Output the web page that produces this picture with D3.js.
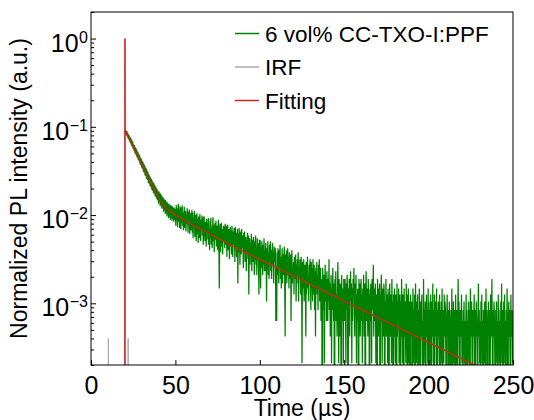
<!DOCTYPE html>
<html>
<head>
<meta charset="utf-8">
<script src="https://cdn.jsdelivr.net/npm/d3@7"></script>
<style>
  body { margin: 0; background: #fff; }
  svg { display: block; font-family: "Liberation Sans", Arial, sans-serif; }
</style>
</head>
<body>
<svg id="chart"></svg>
<script>
// ---- data ----
// green trace: counts every 0.25 us from t = 20 us (one row = 10 us), one count = 2.1e-4 normalized
const greenStart = 20, greenStep = 0.25, countUnit = 2.1e-4;
const greenCounts = [
  430, 405, 438, 392, 400, 425, 371, 408, 352, 390, 340, 378, 322, 362, 310, 350, 290, 335, 283, 324, 268, 301, 255, 296, 240, 279, 232, 270, 220, 256, 212, 248, 200, 236, 194, 228, 182, 214, 176, 208,
  165, 198, 160, 190, 148, 182, 144, 176, 134, 166, 131, 160, 122, 152, 119, 146, 110, 139, 108, 133, 101, 127, 99, 122, 92, 117, 90, 112, 85, 109, 83, 104, 78, 100, 76, 96, 72, 93, 70, 89,
  64, 88, 67, 85, 60, 83, 62, 80, 56, 77, 58, 75, 52, 73, 55, 71, 49, 70, 51, 67, 46, 66, 48, 64, 44, 64, 46, 61, 42, 62, 44, 60, 41, 60, 43, 58, 40, 58, 42, 56,
  48, 36, 62, 42, 57, 35, 50, 64, 40, 55, 34, 60, 45, 33, 58, 39, 61, 36, 51, 32, 47, 59, 34, 43, 53, 31, 48, 38, 57, 40, 30, 52, 36, 55, 29, 45, 50, 32, 41, 54,
  30, 51, 26, 44, 37, 53, 27, 41, 48, 24, 34, 50, 29, 43, 23, 46, 39, 26, 49, 32, 24, 42, 35, 47, 28, 45, 22, 38, 46, 31, 24, 40, 34, 21, 43, 29, 39, 25, 44, 22,
  32, 19, 41, 26, 44, 22, 35, 20, 30, 45, 24, 37, 18, 32, 39, 25, 41, 21, 28, 36, 19, 34, 42, 23, 7, 31, 38, 18, 27, 39, 21, 33, 17, 29, 36, 24, 35, 20, 38, 26,
  22, 36, 16, 30, 37, 19, 26, 33, 15, 28, 35, 21, 32, 17, 36, 24, 16, 31, 22, 34, 27, 14, 35, 20, 30, 16, 25, 33, 8, 29, 18, 34, 23, 13, 31, 26, 17, 33, 20, 28,
  24, 12, 30, 18, 31, 14, 22, 27, 11, 25, 19, 30, 15, 28, 6, 21, 26, 13, 23, 17, 29, 11, 20, 25, 14, 27, 18, 10, 24, 15, 28, 13, 21, 10, 26, 16, 23, 12, 6, 25,
  17, 25, 7, 21, 12, 24, 16, 10, 22, 13, 26, 11, 19, 11, 23, 15, 5, 20, 12, 24, 10, 18, 9, 22, 15, 24, 11, 19, 9, 17, 23, 13, 18, 8, 21, 14, 16, 20, 3, 12,
  3, 18, 10, 20, 13, 8, 19, 15, 22, 9, 16, 7, 14, 20, 8, 17, 10, 15, 21, 9, 2, 17, 11, 19, 8, 14, 20, 10, 16, 7, 18, 12, 9, 17, 3, 13, 19, 8, 12, 10,
  14, 6, 16, 9, 11, 17, 5, 13, 8, 15, 10, 18, 5, 12, 9, 15, 11, 6, 16, 10, 1, 14, 7, 12, 15, 5, 11, 13, 9, 2, 14, 6, 12, 16, 7, 10, 5, 13, 8, 15,
  10, 4, 14, 7, 12, 5, 15, 6, 8, 13, 4, 11, 2, 12, 7, 14, 6, 10, 4, 13, 8, 15, 5, 7, 12, 3, 9, 6, 0, 12, 7, 4, 10, 1, 8, 13, 5, 9, 3, 11,
  7, 3, 9, 5, 15, 4, 8, 2, 6, 10, 1, 7, 4, 12, 6, 3, 8, 0, 9, 5, 11, 3, 6, 2, 7, 14, 4, 1, 9, 5, 2, 8, 6, 0, 10, 4, 3, 7, 1, 9,
  7, 3, 9, 5, 1, 8, 4, 10, 6, 0, 7, 4, 9, 2, 6, 11, 5, 8, 1, 7, 3, 9, 6, 12, 4, 2, 8, 5, 10, 1, 6, 3, 7, 5, 0, 9, 4, 8, 2, 6,
  9, 3, 6, 1, 7, 5, 10, 2, 4, 8, 0, 6, 11, 3, 7, 5, 2, 9, 4, 6, 0, 7, 3, 8, 5, 1, 9, 4, 6, 13, 2, 7, 3, 5, 8, 1, 6, 4, 0, 9,
  5, 2, 7, 4, 8, 0, 6, 3, 10, 5, 1, 7, 4, 2, 8, 6, 0, 5, 3, 9, 2, 6, 4, 1, 7, 3, 0, 5, 8, 2, 6, 4, 1, 9, 3, 5, 0, 6, 2, 7,
  4, 1, 6, 3, 0, 8, 2, 5, 3, 7, 1, 4, 6, 0, 5, 2, 9, 3, 1, 6, 4, 0, 7, 2, 5, 3, 1, 8, 2, 6, 0, 4, 7, 1, 3, 5, 0, 6, 2, 4,
  5, 0, 3, 7, 1, 4, 2, 6, 0, 8, 3, 1, 5, 2, 6, 0, 4, 1, 7, 3, 0, 5, 2, 4, 6, 1, 3, 0, 9, 2, 4, 1, 5, 0, 3, 6, 2, 4, 1, 7,
  0, 5, 2, 4, 1, 6, 0, 3, 5, 2, 8, 1, 4, 0, 6, 2, 3, 5, 1, 7, 0, 4, 2, 5, 3, 1, 6, 0, 4, 2, 5, 1, 7, 0, 3, 4, 1, 6, 2, 5,
  4, 1, 0, 3, 6, 2, 4, 0, 1, 5, 3, 2, 0, 4, 1, 7, 3, 0, 2, 5, 1, 4, 3, 0, 6, 2, 1, 4, 0, 3, 9, 2, 5, 1, 0, 4, 2, 3, 6, 1,
  3, 0, 4, 2, 5, 1, 3, 0, 2, 6, 1, 4, 0, 3, 2, 5, 1, 4, 0, 7, 3, 2, 5, 1, 0, 4, 2, 3, 6, 1, 0, 4, 2, 5, 3, 1, 0, 3, 8, 2,
  4, 1, 3, 0, 5, 2, 6, 1, 3, 0, 4, 2, 1, 5, 3, 0, 7, 2, 4, 1, 0, 3, 5, 2, 4, 0, 1, 6, 2, 3, 9, 1, 0, 4, 2, 5, 3, 1, 0, 4,
  2, 5, 1, 3, 0, 6, 2, 4, 1, 3, 0, 5, 2, 8, 1, 4, 3, 0, 5, 2, 6, 1, 3, 0, 4, 2, 7, 1, 0, 3, 5, 2, 4, 1, 0, 6, 2, 3, 4, 1,
  3
];

// instrument response (grey)
const irfTimes  = [0, 10.0, 10.3, 10.6, 19.8, 20.1, 20.4, 21.7, 22.0, 22.3, 250];
const irfValues = [0, 0, 4e-4, 0, 0, 1.0, 0, 0, 4e-4, 0, 0];

// fitting curve (red): rising edge, then the decay
const spikeTimes  = [20.1, 20.1, 20.2];
const spikeValues = [1e-5, 1.0, 0.090];
const fitTimes  = [20.2, 23, 26, 29, 32, 35, 37, 39, 42, 45, 47, 50, 55, 65, 75, 85, 95, 108, 120, 135, 152, 170, 190, 206, 226, 232];
const fitValues = [0.0899, 0.0703, 0.0538, 0.0413, 0.0316, 0.0241, 0.0203, 0.0171, 0.01374, 0.0118, 0.0110, 0.01007,
                   0.00883, 0.00692, 0.0055, 0.00437, 0.00351, 0.00265, 0.00204, 0.00148, 0.00102, 0.00069, 0.000447,
                   0.000316, 0.000204, 0.000178];

const xTicks = [0, 50, 100, 150, 200, 250];
const yMajorTicks = [1e-3, 1e-2, 1e-1, 1];
const yExponents = ["\u22123", "\u22122", "\u22121", "0"];

const legendLabels = ["6 vol% CC-TXO-I:PPF", "IRF", "Fitting"];
const legendColors = ["#008000", "#a8a8a8", "#dd2020"];

// ---- layout ----
const wtot = 534, htot = 420;
const margin = { top: 12, right: 21, bottom: 55, left: 91 };
const floor = 1e-6; // zero counts go off the bottom of the log axis

const svg = d3.select("#chart")
    .attr("width", wtot)
    .attr("height", htot);

svg.append("rect").attr("width", wtot).attr("height", htot).attr("fill", "#fff");

const x = d3.scaleLinear()
    .domain([0, 250])
    .range([margin.left, wtot - margin.right]);

const y = d3.scaleLog()
    .domain([2e-4, 2])
    .range([htot - margin.bottom, margin.top]);

svg.append("clipPath")
    .attr("id", "plot-clip")
    .append("rect")
    .attr("x", x(0))
    .attr("y", y(2))
    .attr("width", x(250) - x(0))
    .attr("height", y(2e-4) - y(2));

const plot = svg.append("g").attr("clip-path", "url(#plot-clip)");

const line = d3.line()
    .x(d => x(d[0]))
    .y(d => y(Math.max(d[1], floor)));

// IRF
plot.append("path")
    .datum(irfTimes.map((t, i) => [t, irfValues[i]]))
    .attr("fill", "none")
    .attr("stroke", legendColors[1])
    .attr("stroke-width", 1)
    .attr("d", line);

// measured decay
const greenData = greenCounts.map((c, i) => [greenStart + i * greenStep, c * countUnit]);
plot.append("path")
    .datum(greenData)
    .attr("fill", "none")
    .attr("stroke", legendColors[0])
    .attr("stroke-width", 1.25)
    .attr("d", line);

// fitting
plot.append("path")
    .datum(spikeTimes.map((t, i) => [t, spikeValues[i]]))
    .attr("fill", "none")
    .attr("stroke", legendColors[2])
    .attr("stroke-opacity", 0.75)
    .attr("stroke-width", 2)
    .attr("d", line);

plot.append("path")
    .datum(fitTimes.map((t, i) => [t, fitValues[i]]))
    .attr("fill", "none")
    .attr("stroke", "#c8281a")
    .attr("stroke-width", 1.4)
    .attr("d", d3.line().x(d => x(d[0])).y(d => y(d[1])).curve(d3.curveMonotoneX));

// ---- axes (ticks point inwards) ----
const xAxis = d3.axisBottom(x)
    .tickValues(xTicks)
    .tickSizeInner(-5)
    .tickSizeOuter(0)
    .tickPadding(11)
    .tickFormat(d3.format("d"));

const gx = svg.append("g")
    .attr("transform", `translate(0, ${y(2e-4)})`)
    .call(xAxis);
gx.select(".domain").remove();
gx.selectAll(".tick line").attr("stroke", "#000");
gx.selectAll(".tick text")
    .attr("font-size", 25)
    .attr("fill", "#000")
    .attr("font-family", "Liberation Sans, Arial, sans-serif");

// minor y ticks
const minor = y.ticks().filter(v => yMajorTicks.indexOf(v) < 0);
const gyMinor = svg.append("g")
    .attr("transform", `translate(${x(0)}, 0)`)
    .call(d3.axisLeft(y).tickValues(minor).tickSizeInner(-3).tickSizeOuter(0).tickFormat(""));
gyMinor.select(".domain").remove();
gyMinor.selectAll(".tick line").attr("stroke", "#000");

// major y ticks, labels as 10 with superscript
const gy = svg.append("g")
    .attr("transform", `translate(${x(0)}, 0)`)
    .call(d3.axisLeft(y).tickValues(yMajorTicks).tickSizeInner(-5).tickSizeOuter(0).tickFormat(""));
gy.select(".domain").remove();
gy.selectAll(".tick line").attr("stroke", "#000");

// exponent right-aligned at the axis, "10" placed just left of it
const labelRight = x(0) - 3;
const yLabels = svg.append("g")
    .selectAll("g")
    .data(yMajorTicks)
    .join("g");

const expText = yLabels.append("text")
    .attr("x", labelRight)
    .attr("y", d => y(d) + 4)
    .attr("text-anchor", "end")
    .attr("font-size", 16)
    .text((d, i) => yExponents[i]);

yLabels.append("text")
    .attr("x", function(d, i) { return labelRight - expText.nodes()[i].getComputedTextLength() - 0.5; })
    .attr("y", d => y(d) + 13)
    .attr("text-anchor", "end")
    .attr("font-size", 25)
    .text("10");

// frame
svg.append("rect")
    .attr("x", x(0))
    .attr("y", y(2))
    .attr("width", x(250) - x(0))
    .attr("height", y(2e-4) - y(2))
    .attr("fill", "none")
    .attr("stroke", "#000")
    .attr("stroke-width", 1);

// axis titles
svg.append("text")
    .attr("x", (x(0) + x(250)) / 2)
    .attr("y", 416)
    .attr("text-anchor", "middle")
    .attr("font-size", 23)
    .text("Time (\u00b5s)");

svg.append("text")
    .attr("transform", `translate(27, ${(y(2) + y(2e-4)) / 2}) rotate(-90)`)
    .attr("text-anchor", "middle")
    .attr("font-size", 23)
    .text("Normalized PL intensity (a.u.)");

// legend
const legend = svg.append("g")
    .selectAll("g")
    .data(legendLabels)
    .join("g")
    .attr("transform", (d, i) => `translate(235, ${33.5 + i * 33.5})`);

legend.append("line")
    .attr("x1", 0).attr("x2", 24)
    .attr("stroke", (d, i) => legendColors[i])
    .attr("stroke-width", 1.5);

legend.append("text")
    .attr("x", 30)
    .attr("y", 8)
    .attr("font-size", 22.5)
    .text(d => d);
</script>
</body>
</html>
